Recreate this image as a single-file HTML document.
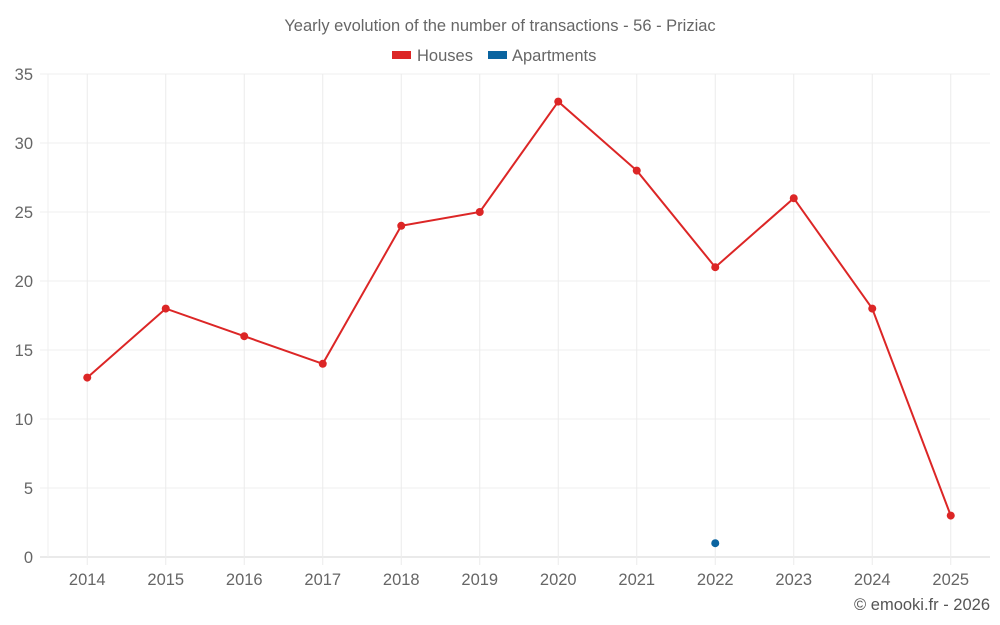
<!DOCTYPE html>
<html><head><meta charset="utf-8"><style>
body{margin:0;background:#fff;}
svg{display:block;font-family:"Liberation Sans",sans-serif;}
</style></head><body>
<svg id="chart" width="1000" height="625">
<text x="500" y="31" text-anchor="middle" font-size="16.5" fill="#666">Yearly evolution of the number of transactions - 56 - Priziac</text>
<g>
<g><rect x="392" y="51" width="19" height="8" fill="#dc2626"/><text x="417" y="61" font-size="16.5" fill="#666">Houses</text></g>
<g><rect x="488" y="51" width="19" height="8" fill="#0a64a0"/><text x="512" y="61" font-size="16.5" fill="#666">Apartments</text></g>
</g>
<g id="grid"></g><g id="axes"></g><g id="series"></g>
<text x="990" y="610" text-anchor="end" font-size="16.5" fill="#555">© emooki.fr - 2026</text>
</svg>
<script>
const years=[2014,2015,2016,2017,2018,2019,2020,2021,2022,2023,2024,2025];
const houses=[13,18,16,14,24,25,33,28,21,26,18,3];
const apartments=[null,null,null,null,null,null,null,null,1,null,null,null];
const yTicks=[0,5,10,15,20,25,30,35];
const L=48,R=990,T=74,B=557,yMax=35;
const band=(R-L)/years.length;
const xs=i=>L+band*(i+0.5);
const ys=v=>B-(v/yMax)*(B-T);
const NS="http://www.w3.org/2000/svg";
function mk(t,a,p){const e=document.createElementNS(NS,t);for(const k in a)e.setAttribute(k,a[k]);p.appendChild(e);return e;}
const grid=document.getElementById('grid'),axes=document.getElementById('axes'),ser=document.getElementById('series');
yTicks.forEach(v=>{
 const l=mk('line',{x1:40,x2:R,y1:ys(v),y2:ys(v),stroke:v===0?'#d6d6d6':'#efefef'},grid);
 
 
 const t=mk('text',{x:33,y:ys(v)+6,'text-anchor':'end','font-size':16.5,fill:'#666'},axes);t.textContent=v;
 
 
});
const lb=mk('line',{x1:L,x2:L,y1:T,y2:B,stroke:'#efefef'},grid);


years.forEach((y,i)=>{
 const l=mk('line',{x1:xs(i),x2:xs(i),y1:T,y2:B+8,stroke:'#ececec'},grid);
 
 
 const t=mk('text',{x:xs(i),y:585,'text-anchor':'middle','font-size':16.5,fill:'#666'},axes);t.textContent=y;
 
 
});
const pts=houses.map((v,i)=>xs(i)+','+ys(v)).join(' ');
const pl=mk('polyline',{points:pts,fill:'none',stroke:'#dc2626','stroke-width':2},ser);


houses.forEach((v,i)=>{
 const c=mk('circle',{cx:xs(i),cy:ys(v),r:4,fill:'#dc2626'},ser);
 
 
});
apartments.forEach((v,i)=>{
 if(v==null)return;
 const c=mk('circle',{cx:xs(i),cy:ys(v),r:4,fill:'#0a64a0'},ser);
 
 
});
</script>
</body></html>
